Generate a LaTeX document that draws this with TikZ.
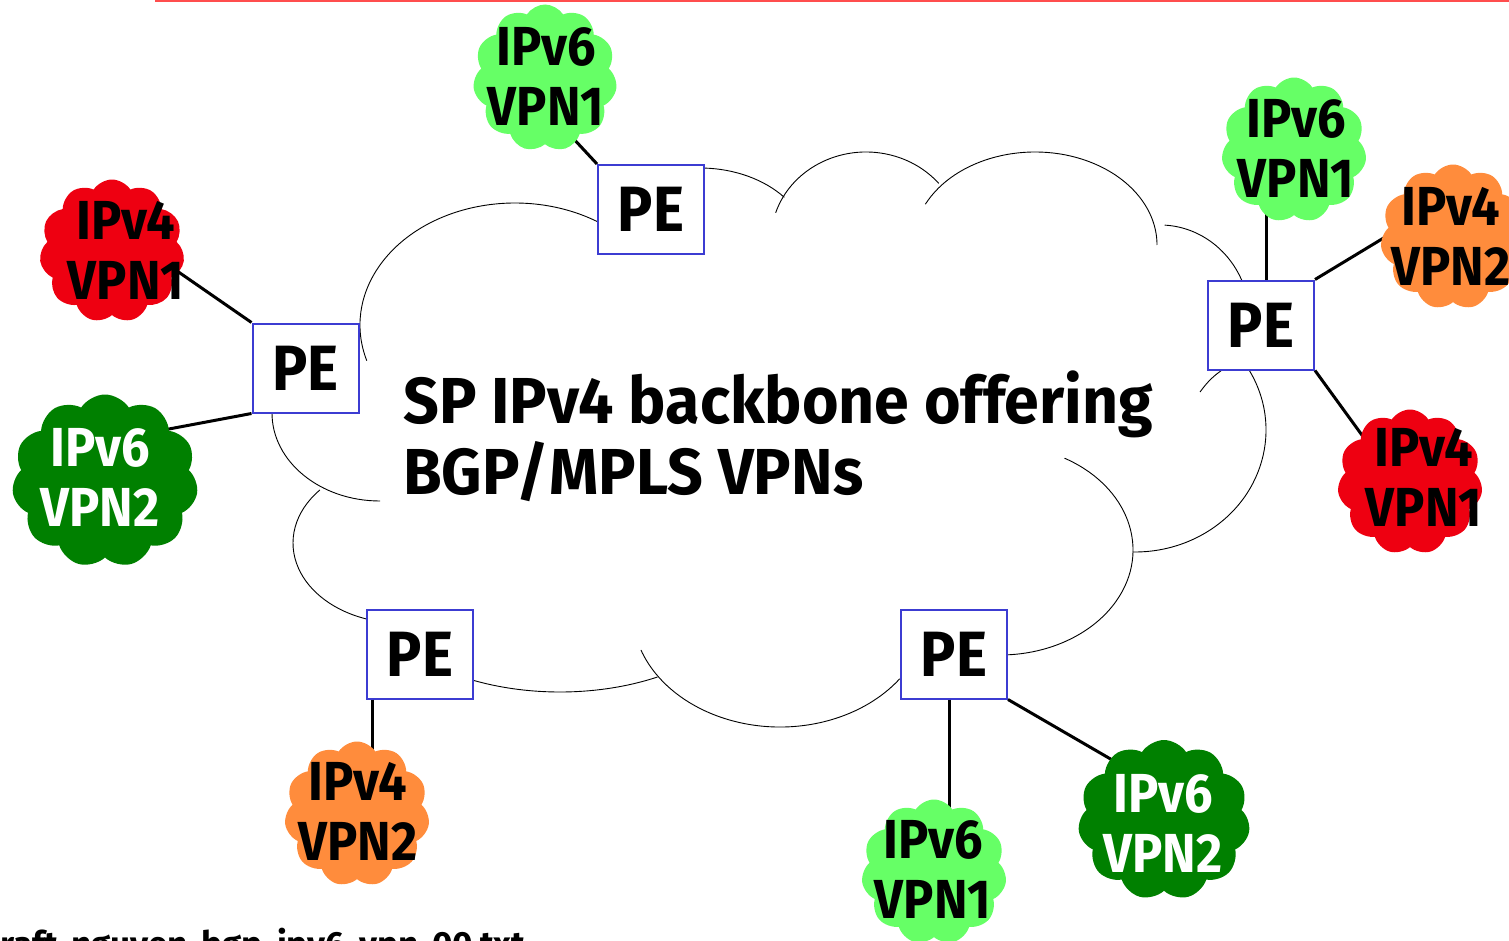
\documentclass[tikz,border=0pt]{standalone}
\usepackage{fontspec}
\usepackage{graphicx}
\setmainfont{Fira Sans}
\usetikzlibrary{shapes.symbols,calc}
\definecolor{lgreen}{HTML}{66FF66}
\definecolor{dgreen}{HTML}{008000}
\definecolor{vred}{HTML}{EE0011}
\definecolor{vorange}{HTML}{FF8C3C}
\definecolor{peblue}{HTML}{3C3CD2}
\definecolor{topred}{HTML}{FF4D4D}
\newcommand{\sq}[1]{\scalebox{0.92}[1]{#1}}
\newcommand{\carc}[6]{\draw[bb] (#1,#2) ++(#5:#3 and #4) arc[start angle=#5, end angle=#6, x radius=#3, y radius=#4];}
\begin{document}
\begin{tikzpicture}[x=1pt,y=-1pt,
  vpn/.style={cloud, cloud puffs=11, cloud puff arc=115, aspect=1, inner sep=0pt, draw=none, minimum width=145pt, minimum height=145pt},
  vlabel/.style={align=center, inner sep=0pt, font=\bfseries\fontsize{55}{60}\selectfont},
  pebox/.style={draw=peblue, line width=2pt, fill=white, minimum width=106pt, minimum height=89pt, inner sep=0pt, font=\bfseries\fontsize{64}{64}\selectfont},
  link/.style={line width=3pt},
  bb/.style={line width=0.9pt}
]
\useasboundingbox (0,0) rectangle (1509,941);
\draw[topred, line width=2pt] (155,1) -- (1509,1);
% backbone cloud outline
\carc{515}{325}{155}{122}{163}{302}
\carc{700}{250}{110}{82}{272}{320}
\carc{866}{240}{95}{88}{198}{320}
\carc{1035}{245}{122}{93}{206}{360}
\carc{1160}{320}{90}{95}{273}{336}
\carc{1135}{430}{131}{122}{-30}{91}
\draw[bb] (1200,392) to[bend left=10] (1225,368);
\carc{1000}{550}{133}{105}{-61}{87}
\carc{780}{610}{148}{117}{160}{36}
\carc{560}{580}{195}{112}{117}{60}
\carc{400}{543}{107}{80}{221.5}{108}
\carc{380}{413}{108}{88}{180}{90}
% PE routers
\node[pebox] (pe1) at (305.5,368) {\sq{PE}};
\node[pebox] (pe2) at (651,209.5) {\sq{PE}};
\node[pebox] (pe3) at (1261,325) {\sq{PE}};
\node[pebox] (pe4) at (420,654) {\sq{PE}};
\node[pebox] (pe5) at (954,654) {\sq{PE}};
\node[anchor=base west, align=left, inner sep=0pt, font=\bfseries\fontsize{65}{71}\selectfont] (main) at (403,494) {\scalebox{0.964}[1]{SP IPv4 backbone offering}\\\scalebox{0.964}[1]{BGP/MPLS VPNs}};
% VPN cloud positions (shapes drawn after connectors)
\path (545,78) coordinate (p1) (112,251) coordinate (p2) (105,481) coordinate (p3)
      (1294,150) coordinate (p4) (1453,237) coordinate (p5) (1410,482) coordinate (p6)
      (357,814) coordinate (p7) (934,872) coordinate (p8) (1164,820) coordinate (p9);
% connectors
\draw[link] (pe2.north west) -- ([yshift=-30pt]p1);
\draw[link] (pe1.north west) -- ([yshift=25pt]p2);
\draw[link] (pe1.south west) -- ([yshift=40pt]p3);
\draw[link] ([xshift=5pt]pe3.north) -- ([xshift=5pt]pe3.north |- p4);
\draw[link] (pe3.north east) -- ([yshift=41pt]p5);
\draw[link] (pe3.south east) -- ([xshift=-14pt]p6);
\draw[link] ([xshift=6pt]pe4.south west) -- ([xshift=6pt]pe4.south west |- p7);
\draw[link] ([xshift=-5pt]pe5.south) -- ([xshift=-5pt]pe5.south |- p8);
\draw[link] (pe5.south east) -- ([yshift=30pt]p9);
% VPN clouds
\node[vpn, fill=lgreen, minimum width=144pt, minimum height=147pt] (c1) at (p1) {};
\node[vpn, fill=vred, minimum height=143pt] (c2) at (p2) {};
\node[vpn, fill=dgreen, minimum width=186pt, minimum height=173pt] (c3) at (p3) {};
\node[vpn, fill=lgreen] (c4) at (p4) {};
\node[vpn, fill=vorange] (c5) at (p5) {};
\node[vpn, fill=vred] (c6) at (p6) {};
\node[vpn, fill=vorange] (c7) at (p7) {};
\node[vpn, fill=lgreen] (c8) at (p8) {};
\node[vpn, fill=dgreen, minimum width=172pt, minimum height=160pt] (c9) at (p9) {};
% labels
\node[vlabel] (t1) at (546,76) {\sq{IPv6}\\\sq{VPN1}};
\node[vlabel] (t2) at (126,250) {\sq{IPv4}\\\sq{VPN1}};
\node[vlabel, text=white] (t3) at (100,477) {\sq{IPv6}\\\sq{VPN2}};
\node[vlabel] (t4) at (1296,148) {\sq{IPv6}\\\sq{VPN1}};
\node[vlabel] (t5) at (1451,236) {\sq{IPv4}\\\sq{VPN2}};
\node[vlabel] (t6) at (1424,477) {\sq{IPv4}\\\sq{VPN1}};
\node[vlabel] (t7) at (358,811) {\sq{IPv4}\\\sq{VPN2}};
\node[vlabel] (t8) at (933,869) {\sq{IPv6}\\\sq{VPN1}};
\node[vlabel, text=white] (t9) at (1163,823) {\sq{IPv6}\\\sq{VPN2}};
\node[anchor=base west, inner sep=0pt, font=\bfseries\fontsize{35}{35}\selectfont] (src) at (-21,956) {draft-nguyen-bgp-ipv6-vpn-00.txt};
\end{tikzpicture}
\end{document}
